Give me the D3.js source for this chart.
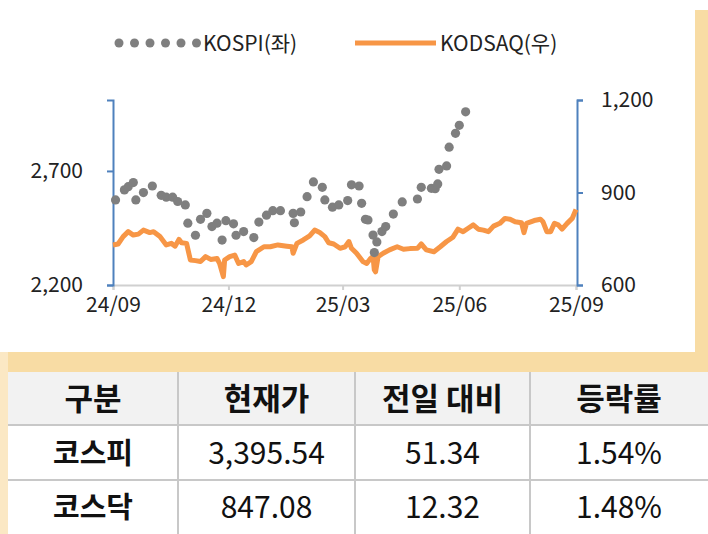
<!DOCTYPE html><html><head><meta charset="utf-8">
<script src="https://cdn.jsdelivr.net/npm/d3@7"></script>
<style>body{margin:0;background:#fff}svg{display:block;font-family:"Noto Sans CJK KR","Noto Sans",sans-serif}</style></head><body>
<script>
const startDate = "2024-09-01";
const kospiDay = [2,9,12,16,18,24,31,38,42,47,51,57,59,65,69,74,78,82,86,89,95,97,103,111,115,121,126,132,142,143,148,153,158,165,167,173,178,185,188,194,196,199,201,205,206,208,212,215,221,228,240,243,251,254,256,257,263,265,270,273,278];
const kospiVal = [2573,2617,2631,2649,2573,2605,2634,2593,2585,2585,2566,2551,2471,2418,2488,2514,2456,2471,2397,2482,2468,2418,2434,2408,2476,2506,2526,2526,2514,2473,2520,2587,2652,2628,2573,2541,2551,2570,2639,2634,2558,2488,2485,2419,2342,2389,2434,2456,2511,2564,2577,2628,2624,2622,2643,2707,2722,2804,2865,2900,2959];
const kosdaqDay = [0,4,8,12,16,20,24,29,32,37,42,46,49,52,54,58,61,65,69,73,77,82,84,87,88,92,96,99,103,105,109,113,119,124,130,137,141,142,145,150,155,159,163,167,170,174,179,183,186,188,192,197,200,203,205,206,207,209,213,218,224,229,234,240,243,247,253,258,263,268,272,276,280,284,288,292,296,300,305,309,313,317,322,324,326,332,337,339,342,345,348,351,354,358,362,365];
const kosdaqVal = [730,733,757,773,762,765,778,770,773,757,730,735,726,748,737,735,681,679,676,692,683,686,670,627,681,692,697,670,676,665,676,708,724,724,730,726,724,703,735,746,759,778,770,757,737,733,719,724,741,719,703,676,670,686,692,649,643,692,703,714,724,716,718,719,733,714,708,724,741,755,781,773,784,795,781,778,773,791,800,816,813,805,802,770,800,809,813,805,773,773,800,795,781,800,816,845];
const xTicks = ["2024-09-01","2024-12-01","2025-03-01","2025-06-01","2025-09-01"];
const leftTicks = [2200,2700];
const rightTicks = [600,900,1200];
const legendLabels = ["KOSPI(좌)","KODSAQ(우)"];
const tableHeader = ["구분","현재가","전일 대비","등락률"];
const tableRows = [["코스피","3,395.54","51.34","1.54%"],["코스닥","847.08","12.32","1.48%"]];

const W=708,H=534;
const FF='"Noto Sans CJK KR","Noto Sans",sans-serif';
const svg=d3.select("body").append("svg").attr("width",W).attr("height",H);
svg.append("rect").attr("x",695).attr("y",10).attr("width",13).attr("height",345).attr("fill","#f8dca4");
svg.append("rect").attr("x",0).attr("y",352).attr("width",708).attr("height",20).attr("fill","#f8dca4");
svg.append("rect").attr("x",0).attr("y",352).attr("width",8).attr("height",182).attr("fill","#fbe8c4");

const parse=d3.timeParse("%Y-%m-%d");
const t0=parse(startDate);
const x=d3.scaleTime().domain([parse(xTicks[0]),parse(xTicks[4])]).range([113,576]);
const yL=d3.scaleLinear().domain([2200,3011]).range([285,100]);
const yR=d3.scaleLinear().domain([600,1200]).range([285,100]);
const fmt=d3.format(",");
const fontSize="21px", tc="#222";
function style(g,col){
  g.attr("font-family",FF);
  g.select(".domain").attr("stroke",col).attr("stroke-width",2);
  g.selectAll(".tick line").attr("stroke",col).attr("stroke-width",2);
  g.selectAll("text").attr("font-size",fontSize).attr("fill",tc);
}
style(svg.append("g").attr("transform","translate(0,285)")
 .call(d3.axisBottom(x).tickValues(xTicks.map(parse)).tickSize(5).tickPadding(7).tickFormat(d3.timeFormat("%y/%m"))),"#d0d0d0");
style(svg.append("g").attr("transform","translate(113,0)")
 .call(d3.axisLeft(yL).tickValues(leftTicks).tickSize(6).tickPadding(24).tickFormat(fmt)),"#4f81bd");
style(svg.append("g").attr("transform","translate(577,0)")
 .call(d3.axisRight(yR).tickValues(rightTicks).tickSize(6).tickPadding(18).tickFormat(fmt)),"#4f81bd");

const kd=kosdaqDay.map((d,i)=>({d:d3.timeDay.offset(t0,d),v:kosdaqVal[i]}));
svg.append("path").datum(kd).attr("fill","none").attr("stroke","#f79646").attr("stroke-width",5).attr("stroke-linejoin","round")
 .attr("d",d3.line().x(d=>x(d.d)).y(d=>yR(d.v)));
svg.selectAll("circle.k").data(kospiDay.map((d,i)=>({d:d3.timeDay.offset(t0,d),v:kospiVal[i]}))).join("circle")
 .attr("cx",d=>x(d.d)).attr("cy",d=>yL(d.v)).attr("r",4.6).attr("fill","#7f7f7f");

const lg=svg.append("g");
d3.range(6).forEach(i=>lg.append("circle").attr("cx",119+i*15.5).attr("cy",43).attr("r",4.5).attr("fill","#7f7f7f"));
lg.append("text").attr("x",203).attr("y",51).attr("font-size","21px").attr("fill",tc).text(legendLabels[0]);
lg.append("line").attr("x1",355).attr("x2",436).attr("y1",43).attr("y2",43).attr("stroke","#f79646").attr("stroke-width",5);
lg.append("text").attr("x",440).attr("y",51).attr("font-size","21px").attr("fill",tc).text(legendLabels[1]);

const colX=[8,178,355,530,708], rowY=[372,425,480,534];
svg.append("rect").attr("x",8).attr("y",372).attr("width",700).attr("height",53).attr("fill","#f2f2f2");
[178,355,530].forEach(cx=>svg.append("line").attr("x1",cx).attr("x2",cx).attr("y1",372).attr("y2",534).attr("stroke","#c8c8c8").attr("stroke-width",2));
[425,480].forEach(ry=>svg.append("line").attr("x1",8).attr("x2",708).attr("y1",ry).attr("y2",ry).attr("stroke","#c8c8c8").attr("stroke-width",2));
const allRows=[tableHeader,...tableRows];
allRows.forEach((r,ri)=>r.forEach((c,ci)=>{
  svg.append("text").attr("x",(colX[ci]+colX[ci+1])/2).attr("y",(rowY[ri]+rowY[ri+1])/2+11)
   .attr("text-anchor","middle").attr("font-size",ri===0?"31px":(ci===0?"29px":"30px"))
   .attr("font-weight",(ri===0||ci===0)?"700":"400").attr("fill","#111")
   .attr("font-family",ci>0&&ri>0?"'Liberation Sans Narrow','Noto Sans CJK KR',sans-serif":FF)
   .text(c);
}));
</script></body></html>
